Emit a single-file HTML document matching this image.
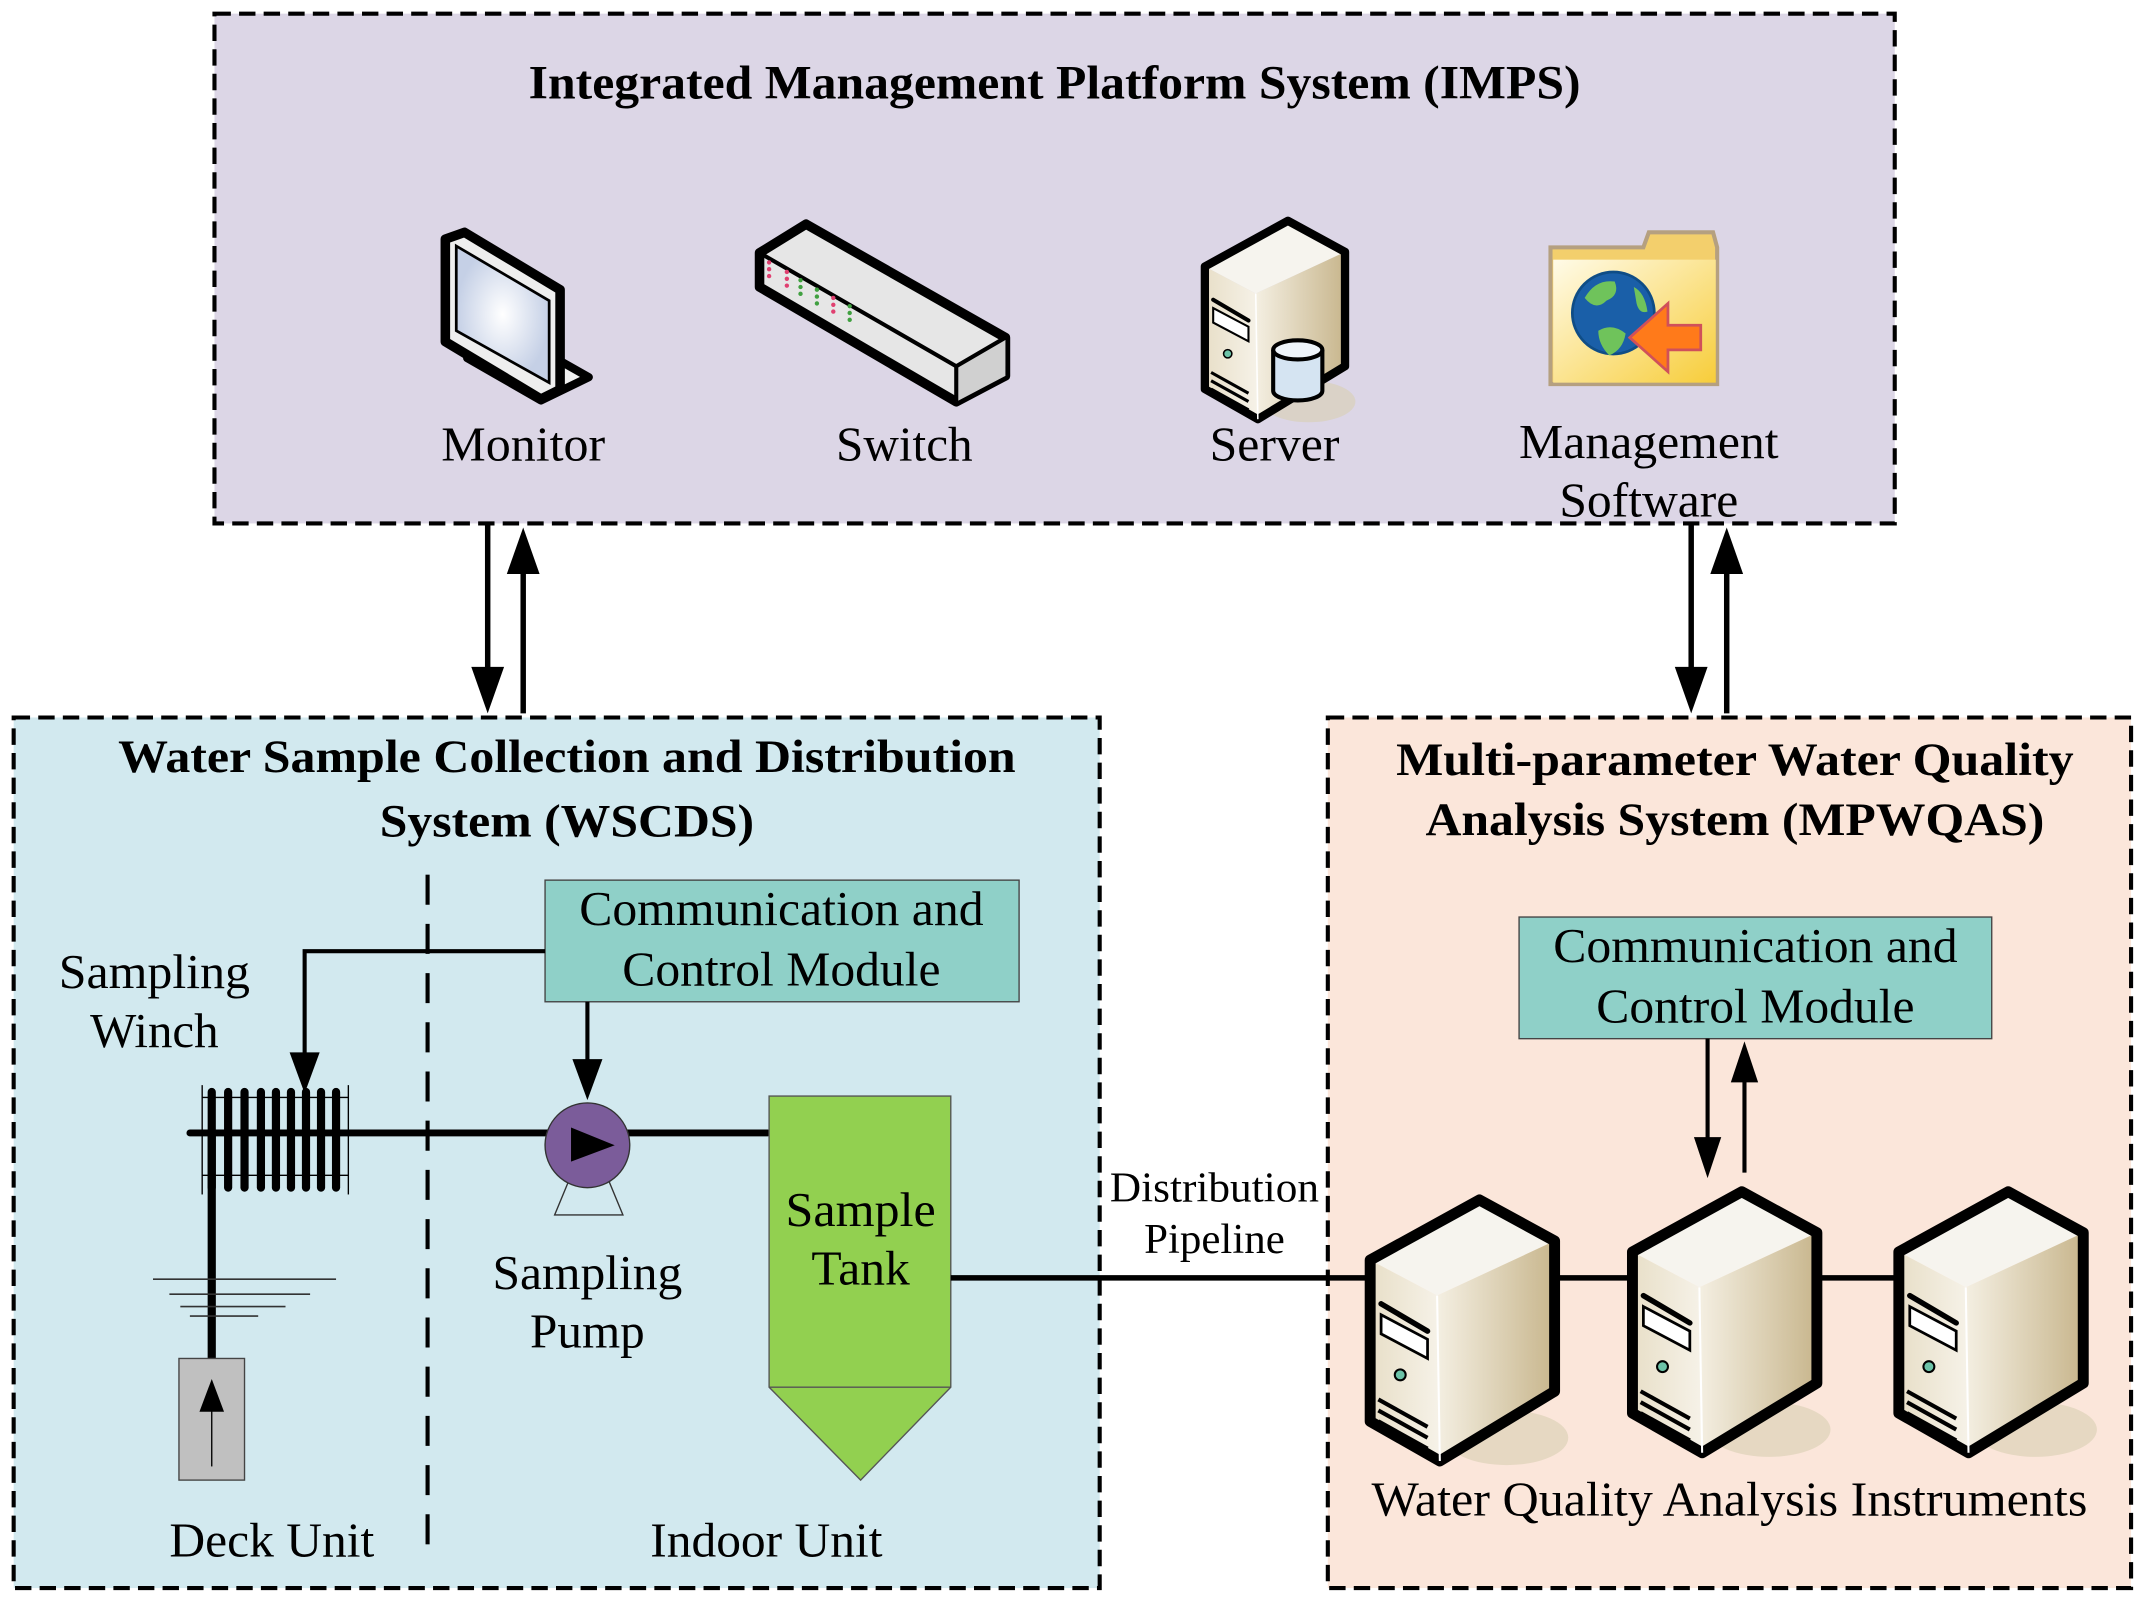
<!DOCTYPE html>
<html><head><meta charset="utf-8"><style>
html,body{margin:0;padding:0;background:#fff;}
svg{display:block;font-family:"Liberation Serif",serif;}
</style></head><body>
<svg width="2142" height="1599" viewBox="0 0 1568 1170" preserveAspectRatio="none">
<defs>
<linearGradient id="beige" x1="0" x2="1"><stop offset="0" stop-color="#f4efe2"/><stop offset="1" stop-color="#c8b68d"/></linearGradient>
<linearGradient id="beigeF" x1="0" x2="1"><stop offset="0" stop-color="#e8dfc8"/><stop offset="1" stop-color="#f6f2e8"/></linearGradient>
<radialGradient id="scr"><stop offset="0" stop-color="#ffffff"/><stop offset="1" stop-color="#c5d0e6"/></radialGradient>
<linearGradient id="fold" x1="0" y1="0" x2="1" y2="1"><stop offset="0" stop-color="#fffbe8"/><stop offset="1" stop-color="#f7cd3a"/></linearGradient>
<g id="srv">
<ellipse cx="100" cy="130" rx="45" ry="20" fill="#d9cfb3" opacity="0.6"/>
<polygon points="0,0 80,-44 135,-14 49,26" fill="#f6f4ee"/>
<polygon points="49,26 135,-14 135,96 51,147" fill="url(#beige)"/>
<polygon points="0,0 49,26 51,147 0,118" fill="url(#beigeF)"/>
<polygon points="0,0 80,-44 135,-14 135,96 51,147 0,118" fill="none" stroke="#000" stroke-width="8" stroke-linejoin="round"/>
<line x1="49" y1="26" x2="51" y2="147" stroke="#fff" stroke-width="1.5"/>
<line x1="8" y1="32" x2="42" y2="52" stroke="#000" stroke-width="4" stroke-linecap="round"/>
<polygon points="8,40 42,58 42,72 8,54" fill="#fff" stroke="#000" stroke-width="2"/>
<circle cx="22" cy="84" r="4" fill="#6cc3a8" stroke="#000" stroke-width="1.5"/>
<line x1="6" y1="110" x2="42" y2="130" stroke="#000" stroke-width="3"/>
<line x1="6" y1="118" x2="42" y2="138" stroke="#000" stroke-width="3"/>
<line x1="6" y1="102" x2="42" y2="122" stroke="#000" stroke-width="3"/>
</g>
</defs>

<!-- IMPS -->
<rect x="157" y="10" width="1230" height="373" fill="#dcd6e6" stroke="#000" stroke-width="3" stroke-dasharray="12,6"/>
<text x="772" y="72" font-size="35" font-weight="bold" text-anchor="middle" textLength="770" lengthAdjust="spacingAndGlyphs">Integrated Management Platform System (IMPS)</text>

<!-- monitor -->
<g>
<polygon points="342,262 396,293 431,276 378,246" fill="#f0f0f0" stroke="#000" stroke-width="6" stroke-linejoin="round"/>
<polygon points="326,175 340,170 410,212 410,285 396,292 326,250" fill="#eeeeee" stroke="#000" stroke-width="7" stroke-linejoin="round"/>
<polygon points="334,180 402,220 402,280 334,242" fill="url(#scr)" stroke="#000" stroke-width="2"/>
</g>
<!-- switch -->
<g>
<polygon points="556,185 590,164 736,247 736,275 700,294 556,210" fill="#e6e6e6" stroke="#000" stroke-width="7" stroke-linejoin="round"/>
<polygon points="700,268 736,247 736,275 700,294" fill="#d0d0d0"/>
<polyline points="556,185 700,268 736,247" fill="none" stroke="#000" stroke-width="3"/>
<line x1="700" y1="268" x2="700" y2="294" stroke="#000" stroke-width="3"/>
<g fill="#e04070"><circle cx="563" cy="192" r="1.6"/><circle cx="563" cy="197" r="1.6"/><circle cx="563" cy="202" r="1.6"/><circle cx="576" cy="199" r="1.6"/><circle cx="576" cy="204" r="1.6"/><circle cx="576" cy="209" r="1.6"/><circle cx="610" cy="218" r="1.6"/><circle cx="610" cy="223" r="1.6"/><circle cx="610" cy="228" r="1.6"/></g>
<g fill="#40a040"><circle cx="586" cy="205" r="1.6"/><circle cx="586" cy="210" r="1.6"/><circle cx="586" cy="215" r="1.6"/><circle cx="598" cy="212" r="1.6"/><circle cx="598" cy="217" r="1.6"/><circle cx="598" cy="222" r="1.6"/><circle cx="622" cy="224" r="1.6"/><circle cx="622" cy="229" r="1.6"/><circle cx="622" cy="234" r="1.6"/></g>
</g>
<!-- server top -->
<g transform="translate(882,195) scale(0.76)"><use href="#srv"/></g>
<g>
<path d="M932,256 v30 a18,7 0 0 0 36,0 v-30" fill="#d5e4f2" stroke="#000" stroke-width="3"/>
<ellipse cx="950" cy="256" rx="18" ry="7" fill="#eef4fa" stroke="#000" stroke-width="3"/>
</g>
<!-- folder -->
<g>
<path d="M1135,181 h68 l4,-11 h47 l3,11 v100 h-122 z" fill="#f3cf6c" stroke="#b5a080" stroke-width="3"/>
<rect x="1137" y="190" width="119" height="90" fill="url(#fold)"/>
<circle cx="1181" cy="229" r="30" fill="#1a5fa8" stroke="#0f4d86" stroke-width="2"/>
<path d="M1160,218 q8,-14 22,-12 q4,10 -6,14 q-8,8 -16,-2z M1170,242 q10,-6 20,2 q-2,12 -12,16 q-8,-8 -8,-18z M1196,210 q8,4 10,18 q-6,2 -8,-6z" fill="#6fc35b"/>
<polygon points="1193,247 1221,222 1221,238 1245,238 1245,256 1221,256 1221,272" fill="#ff7a1a" stroke="#d0505a" stroke-width="2"/>
</g>

<g font-size="36" text-anchor="middle" lengthAdjust="spacingAndGlyphs">
<text x="383" y="337" textLength="120" lengthAdjust="spacingAndGlyphs">Monitor</text>
<text x="662" y="337" textLength="100" lengthAdjust="spacingAndGlyphs">Switch</text>
<text x="933" y="337" textLength="95" lengthAdjust="spacingAndGlyphs">Server</text>
<text x="1207" y="335" textLength="190" lengthAdjust="spacingAndGlyphs">Management</text>
<text x="1207" y="378" textLength="131" lengthAdjust="spacingAndGlyphs">Software</text>
</g>

<!-- vertical arrows top -->
<g stroke="#000" stroke-width="4">
<line x1="357" y1="383" x2="357" y2="495"/>
<line x1="383" y1="522" x2="383" y2="412"/>
<line x1="1238" y1="383" x2="1238" y2="495"/>
<line x1="1264" y1="522" x2="1264" y2="412"/>
</g>
<g fill="#000">
<polygon points="345,488 369,488 357,522"/>
<polygon points="371,420 395,420 383,386"/>
<polygon points="1226,488 1250,488 1238,522"/>
<polygon points="1252,420 1276,420 1264,386"/>
</g>

<!-- WSCDS -->
<rect x="10" y="525" width="795" height="637" fill="#d2e9ef" stroke="#000" stroke-width="3" stroke-dasharray="12,6"/>
<g font-size="34" font-weight="bold" text-anchor="middle">
<text x="415" y="565" textLength="657" lengthAdjust="spacingAndGlyphs">Water Sample Collection and Distribution</text>
<text x="415" y="612" textLength="274" lengthAdjust="spacingAndGlyphs">System (WSCDS)</text>
</g>
<line x1="313" y1="640" x2="313" y2="1140" stroke="#000" stroke-width="3" stroke-dasharray="22,14"/>

<rect x="399" y="644" width="347" height="89" fill="#8fd0c8" stroke="#444" stroke-width="1"/>
<g font-size="36" text-anchor="middle">
<text x="572" y="677" textLength="296" lengthAdjust="spacingAndGlyphs">Communication and</text>
<text x="572" y="721" textLength="233" lengthAdjust="spacingAndGlyphs">Control Module</text>
</g>
<g stroke="#000" stroke-width="3" fill="none">
<polyline points="399,696 223,696 223,775"/>
<line x1="430" y1="733" x2="430" y2="780"/>
</g>
<polygon points="212,770 234,770 223,800" fill="#000"/>
<polygon points="419,775 441,775 430,805" fill="#000"/>

<!-- winch -->
<g stroke="#000" stroke-width="1">
<line x1="148" y1="794" x2="148" y2="874"/>
<line x1="255" y1="794" x2="255" y2="874"/>
<line x1="148" y1="803" x2="255" y2="803"/>
<line x1="148" y1="860" x2="255" y2="860"/>
</g>
<g stroke="#000" stroke-width="6" stroke-linecap="round">
<line x1="155" y1="799" x2="155" y2="869"/><line x1="167" y1="799" x2="167" y2="869"/><line x1="179" y1="799" x2="179" y2="869"/><line x1="191" y1="799" x2="191" y2="869"/><line x1="202" y1="799" x2="202" y2="869"/><line x1="213" y1="799" x2="213" y2="869"/><line x1="224" y1="799" x2="224" y2="869"/><line x1="235" y1="799" x2="235" y2="869"/><line x1="246" y1="799" x2="246" y2="869"/>
</g>
<line x1="139" y1="829" x2="562" y2="829" stroke="#000" stroke-width="5" stroke-linecap="round"/>
<line x1="155" y1="829" x2="155" y2="995" stroke="#000" stroke-width="6"/>
<g stroke="#333" stroke-width="1.2">
<line x1="112" y1="936" x2="246" y2="936"/>
<line x1="124" y1="947" x2="227" y2="947"/>
<line x1="132" y1="956" x2="209" y2="956"/>
<line x1="139" y1="963" x2="189" y2="963"/>
</g>
<rect x="131" y="994" width="48" height="89" fill="#c0c0c0" stroke="#444" stroke-width="1"/>
<line x1="155" y1="1073" x2="155" y2="1025" stroke="#000" stroke-width="1"/>
<polygon points="146,1033 164,1033 155,1009" fill="#000"/>

<!-- pump -->
<polygon points="418,860 406,889 456,889 444,860" fill="none" stroke="#333" stroke-width="1"/>
<circle cx="430" cy="838" r="31" fill="#7b5c9a" stroke="#333" stroke-width="1"/>
<polygon points="418,825 418,850 450,838" fill="#000"/>

<!-- tank -->
<polygon points="563,802 696,802 696,1015 630,1083 563,1015" fill="#92d050" stroke="#555" stroke-width="1"/>
<line x1="563" y1="1015" x2="696" y2="1015" stroke="#555" stroke-width="1"/>

<g font-size="36" text-anchor="middle">
<text x="113" y="723" textLength="140" lengthAdjust="spacingAndGlyphs">Sampling</text>
<text x="113" y="766" textLength="94" lengthAdjust="spacingAndGlyphs">Winch</text>
<text x="430" y="943" textLength="139" lengthAdjust="spacingAndGlyphs">Sampling</text>
<text x="430" y="986" textLength="84" lengthAdjust="spacingAndGlyphs">Pump</text>
<text x="630" y="897" textLength="110" lengthAdjust="spacingAndGlyphs">Sample</text>
<text x="630" y="940" textLength="72" lengthAdjust="spacingAndGlyphs">Tank</text>
<text x="199" y="1139" textLength="150" lengthAdjust="spacingAndGlyphs">Deck Unit</text>
<text x="561" y="1139" textLength="170" lengthAdjust="spacingAndGlyphs">Indoor Unit</text>
</g>

<!-- MPWQAS -->
<rect x="972" y="525" width="588" height="637" fill="#fbe6da" stroke="#000" stroke-width="3" stroke-dasharray="12,6"/>
<g font-size="34" font-weight="bold" text-anchor="middle">
<text x="1270" y="567" textLength="496" lengthAdjust="spacingAndGlyphs">Multi-parameter Water Quality</text>
<text x="1270" y="611" textLength="453" lengthAdjust="spacingAndGlyphs">Analysis System (MPWQAS)</text>
</g>
<rect x="1112" y="671" width="346" height="89" fill="#8fd0c8" stroke="#444" stroke-width="1"/>
<g font-size="36" text-anchor="middle">
<text x="1285" y="704" textLength="296" lengthAdjust="spacingAndGlyphs">Communication and</text>
<text x="1285" y="748" textLength="233" lengthAdjust="spacingAndGlyphs">Control Module</text>
</g>
<g stroke="#000" stroke-width="3">
<line x1="1250" y1="760" x2="1250" y2="838"/>
<line x1="1277" y1="858" x2="1277" y2="785"/>
</g>
<polygon points="1240,832 1260,832 1250,862" fill="#000"/>
<polygon points="1267,792 1287,792 1277,762" fill="#000"/>

<!-- pipeline -->
<line x1="696" y1="935" x2="1000" y2="935" stroke="#000" stroke-width="4"/>
<g stroke="#000" stroke-width="4">
<line x1="1136" y1="935" x2="1195" y2="935"/>
<line x1="1330" y1="935" x2="1390" y2="935"/>
</g>
<g font-size="31" text-anchor="middle">
<text x="889" y="879" textLength="153" lengthAdjust="spacingAndGlyphs">Distribution</text>
<text x="889" y="917" textLength="103" lengthAdjust="spacingAndGlyphs">Pipeline</text>
</g>
<g transform="translate(1003,922)"><use href="#srv"/></g>
<g transform="translate(1195,916)"><use href="#srv"/></g>
<g transform="translate(1390,916)"><use href="#srv"/></g>
<text x="1266" y="1109" font-size="36" text-anchor="middle" textLength="524" lengthAdjust="spacingAndGlyphs">Water Quality Analysis Instruments</text>
</svg>
</body></html>
